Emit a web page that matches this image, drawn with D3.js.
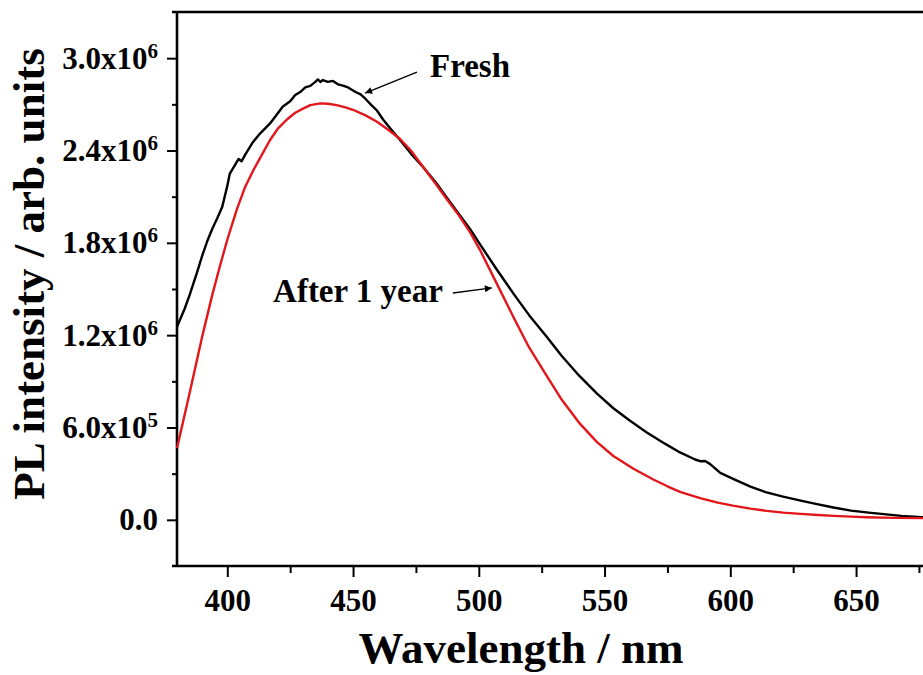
<!DOCTYPE html>
<html>
<head>
<meta charset="utf-8">
<script src="https://cdn.jsdelivr.net/npm/d3@7"></script>
<style>
  body { margin: 0; background: #fff; }
  svg { display: block; }
  svg text { font-family: "Liberation Serif", "Times New Roman", serif; font-weight: bold; }
</style>
</head>
<body>
<div id="chart"></div>
<script>
// wavelength (nm) and PL intensity (x10^6)
const freshWl = [380, 383, 385, 388, 390, 392, 394, 396, 398, 400, 401, 402.5, 404.5, 405.7, 407, 410, 413, 417, 420, 422,
    425, 427, 429, 431, 433, 435, 436, 437, 438, 440, 442, 444, 446, 448, 451, 453, 455, 457, 459.5, 462,
    465, 468.7, 473, 478, 483, 487, 492, 496.5, 500.5, 507, 513.7, 520, 527, 533, 540, 547, 553.5, 560, 566.8, 574,
    580, 586, 588, 590, 592, 596, 602, 608, 614, 621, 628, 634, 641, 648, 655, 661, 668, 676, 680];
const freshVal = [1.255, 1.37, 1.46, 1.61, 1.715, 1.81, 1.89, 1.96, 2.035, 2.17, 2.25, 2.29, 2.345, 2.33, 2.37, 2.45, 2.51, 2.576, 2.64, 2.684,
    2.72, 2.76, 2.78, 2.81, 2.82, 2.846, 2.862, 2.845, 2.858, 2.846, 2.852, 2.83, 2.822, 2.81, 2.78, 2.765, 2.735, 2.7, 2.66, 2.6,
    2.54, 2.468, 2.38, 2.29, 2.19, 2.1, 1.99, 1.89, 1.79, 1.63, 1.472, 1.33, 1.19, 1.065, 0.935, 0.82, 0.725, 0.645, 0.568, 0.495,
    0.438, 0.392, 0.381, 0.382, 0.362, 0.305, 0.26, 0.216, 0.18, 0.151, 0.125, 0.104, 0.08, 0.06, 0.047, 0.037, 0.026, 0.017, 0.013];

const agedWl = [380, 385, 390, 394, 397, 400, 403.7, 407, 410.4, 414, 417, 420, 423.6, 427, 430.3, 433, 437, 440, 443.5, 447,
    450.2, 455, 459.5, 464, 468.7, 473, 478, 483, 487, 492, 496.5, 500.5, 507, 513.7, 520, 527, 533, 540.2, 547, 553.5,
    561.5, 569.4, 575, 580, 588, 595, 601, 608, 614.5, 621, 628, 635, 641, 648, 654, 665, 676, 680];
const agedVal = [0.466, 0.823, 1.19, 1.46, 1.645, 1.82, 2.013, 2.16, 2.273, 2.38, 2.468, 2.54, 2.6, 2.645, 2.674, 2.695, 2.706, 2.704, 2.695, 2.68,
    2.663, 2.628, 2.587, 2.535, 2.475, 2.4, 2.29, 2.18, 2.09, 1.98, 1.87, 1.753, 1.54, 1.32, 1.12, 0.935, 0.78, 0.625, 0.505, 0.415,
    0.332, 0.262, 0.218, 0.182, 0.141, 0.112, 0.092, 0.073, 0.058, 0.047, 0.039, 0.031, 0.026, 0.021, 0.017, 0.013, 0.011, 0.01];

const xMajor = [400, 450, 500, 550, 600, 650];
const xMinor = [425, 475, 525, 575, 625, 675];
const yMajor = [0, 0.6e6, 1.2e6, 1.8e6, 2.4e6, 3.0e6];
const yMinor = [0.3e6, 0.9e6, 1.5e6, 2.1e6, 2.7e6];

let width = 923,
    height = 675,
    margin = { top: 12, left: 177, bottom: 109 };

const svg = d3.select("#chart")
    .append("svg")
    .attr("width", width)
    .attr("height", height);

let x = d3.scaleLinear()
    .domain([380, 680])
    .range([margin.left, margin.left + 300 * 2.515]);

let y = d3.scaleLinear()
    .domain([-0.3e6, 3.3e6])
    .range([height - margin.bottom, margin.top]);

let yBottom = height - margin.bottom;

// minor ticks
svg.append("g")
    .attr("transform", `translate(0,${yBottom})`)
    .call(d3.axisBottom(x).tickValues(xMinor).tickSize(7).tickFormat(""));
svg.append("g")
    .attr("transform", `translate(${margin.left},0)`)
    .call(d3.axisLeft(y).tickValues(yMinor).tickSize(5).tickFormat(""));

// major ticks with labels
svg.append("g")
    .attr("transform", `translate(0,${yBottom})`)
    .call(d3.axisBottom(x).tickValues(xMajor).tickSize(11).tickPadding(12).tickFormat(d3.format("d")))
    .attr("class", "x-axis")
    .selectAll("text")
    .attr("font-size", 31);

let yAxis = svg.append("g")
    .attr("transform", `translate(${margin.left},0)`)
    .call(d3.axisLeft(y).tickValues(yMajor).tickSize(10).tickPadding(10))
    .attr("class", "y-axis");

yAxis.selectAll("text").each(function (d) {
    let t = d3.select(this).text("").attr("font-size", 31).attr("dx", 1);
    if (d === 0) {
        t.text("0.0");
        return;
    }
    let e = Math.floor(Math.log10(d));
    t.append("tspan").text((d / Math.pow(10, e)).toFixed(1) + "x10");
    t.append("tspan").attr("font-size", 21).attr("dy", -11).text(e);
});

svg.selectAll("g").attr("font-family", null).attr("font-size", null);
svg.selectAll(".domain").remove();
svg.selectAll(".tick line").attr("stroke", "#000").attr("stroke-width", 2);
svg.selectAll(".tick text").attr("fill", "#000");

// frame
let frame = svg.append("g").attr("stroke", "#000").attr("stroke-width", 2.6);
frame.append("line").attr("x1", margin.left).attr("x2", margin.left).attr("y1", margin.top).attr("y2", yBottom);
frame.append("line").attr("x1", margin.left - 5).attr("x2", x(680)).attr("y1", yBottom).attr("y2", yBottom);
frame.append("line").attr("x1", margin.left - 5).attr("x2", x(680)).attr("y1", margin.top).attr("y2", margin.top);

// curves
let line = d3.line()
    .x((d) => x(d[0]))
    .y((d) => y(d[1] * 1e6));

let series = [
    { wl: freshWl, val: freshVal, color: "#000000" },
    { wl: agedWl, val: agedVal, color: "#e3161c" }
];
for (let s of series) {
    svg.append("path")
        .datum(d3.zip(s.wl, s.val))
        .attr("fill", "none")
        .attr("stroke", s.color)
        .attr("stroke-width", 2.4)
        .attr("stroke-linejoin", "round")
        .attr("d", line);
}

// annotations
svg.append("defs").append("marker")
    .attr("id", "head")
    .attr("viewBox", "0 0 10 10")
    .attr("refX", 10)
    .attr("refY", 5)
    .attr("markerWidth", 10)
    .attr("markerHeight", 7)
    .attr("markerUnits", "userSpaceOnUse")
    .attr("orient", "auto")
    .append("path")
    .attr("d", "M0,0 L10,5 L0,10 z")
    .attr("fill", "#000");

svg.append("line")
    .attr("x1", x(475.4)).attr("y1", y(2.909e6))
    .attr("x2", x(454.8)).attr("y2", y(2.773e6))
    .attr("stroke", "#000").attr("stroke-width", 1.4)
    .attr("marker-end", "url(#head)");
svg.append("text")
    .attr("x", x(480.6)).attr("y", y(2.877e6))
    .attr("font-size", 33)
    .text("Fresh");

svg.append("line")
    .attr("x1", x(489.7)).attr("y1", y(1.474e6))
    .attr("x2", x(505.2)).attr("y2", y(1.507e6))
    .attr("stroke", "#000").attr("stroke-width", 1.4)
    .attr("marker-end", "url(#head)");
svg.append("text")
    .attr("x", x(418.2)).attr("y", y(1.416e6))
    .attr("font-size", 33)
    .text("After 1 year");

// axis titles
svg.append("text")
    .attr("x", 521)
    .attr("y", 663)
    .attr("text-anchor", "middle")
    .attr("font-size", 45)
    .text("Wavelength / nm");

svg.append("text")
    .attr("transform", "translate(44,274) rotate(-90)")
    .attr("text-anchor", "middle")
    .attr("font-size", 45)
    .text("PL intensity / arb. units");
</script>
</body>
</html>
